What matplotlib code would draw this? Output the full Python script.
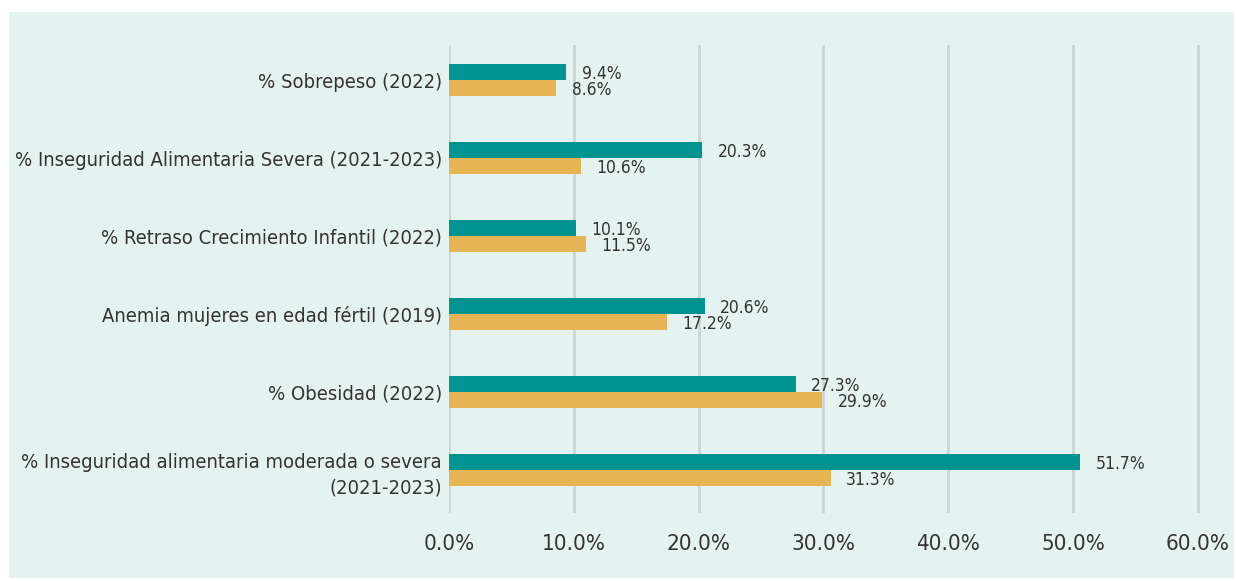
import matplotlib.pyplot as plt
from matplotlib import font_manager
from matplotlib.patches import Rectangle
from matplotlib.ticker import FuncFormatter
import numpy as np

# Indicadores (de abajo hacia arriba)
categories = [
    "% Inseguridad alimentaria moderada o severa\n(2021-2023)",
    "% Obesidad (2022)",
    "Anemia mujeres en edad fértil (2019)",
    "% Retraso Crecimiento Infantil (2022)",
    "% Inseguridad Alimentaria Severa (2021-2023)",
    "% Sobrepeso (2022)",
]
# longitudes de barra tal como se ven en el gráfico
serie_a = [50.6, 27.8, 20.5, 10.2, 20.3, 9.4]   # teal
serie_b = [30.6, 29.9, 17.5, 11.0, 10.6, 8.6]   # gold
# etiquetas impresas junto a las barras
labels_a = [51.7, 27.3, 20.6, 10.1, 20.3, 9.4]
labels_b = [31.3, 29.9, 17.2, 11.5, 10.6, 8.6]
xticks = [0, 10, 20, 30, 40, 50, 60]

TEAL = "#009490"
GOLD = "#E6B655"
BG = "#E5F3F0"
GRID = "#C9D6D3"
TXT = "#333333"

# condensed font if there is one
names = {f.name for f in font_manager.fontManager.ttflist}
if "Liberation Sans Narrow" in names:
    plt.rcParams['font.family'] = ['Liberation Sans Narrow', 'DejaVu Sans']
else:
    plt.rcParams['font.family'] = ['DejaVu Sans']
    plt.rcParams['font.stretch'] = 'condensed'

W, H = 1236, 581
fig = plt.figure(figsize=(W / 100, H / 100), dpi=100, facecolor="white")
fig.patches.append(Rectangle((9 / W, 3 / H), 1225 / W, 566 / H,
                             transform=fig.transFigure, facecolor=BG,
                             edgecolor="none", zorder=-10))

xmax = 60.3
px_per_unit = 124.8 / 10
ax = fig.add_axes([449 / W, 68 / H, xmax * px_per_unit / W, 468 / H])
ax.set_facecolor("none")
ax.set_zorder(5)

y = np.arange(len(categories))
h = 0.205
bars_a = ax.barh(y + h / 2, serie_a, height=h, color=TEAL, zorder=3)
bars_b = ax.barh(y - h / 2, serie_b, height=h, color=GOLD, zorder=3)

for bars, vals in ((bars_a, labels_a), (bars_b, labels_b)):
    txts = ax.bar_label(bars, labels=[f"{v:.1f}%" for v in vals], padding=11,
                        fontsize=12.5, color=TXT)
    for t in txts:
        t.set_va("center_baseline")

ax.set_xlim(0, xmax)
ax.set_ylim(-0.55, 5.45)
ax.set_xticks(xticks)
ax.xaxis.set_major_formatter(FuncFormatter(lambda v, p: f"{v:.1f}%"))
ax.set_yticks(y)
ax.set_yticklabels(categories, linespacing=1.45)
ax.tick_params(axis="x", length=0, pad=15, labelsize=16, labelcolor=TXT)
ax.tick_params(axis="y", length=0, pad=5, labelsize=14.5, labelcolor=TXT)
ax.grid(axis="x", color=GRID, linewidth=2, zorder=0)
ax.set_axisbelow(True)
for s in ax.spines.values():
    s.set_visible(False)

fig.savefig("out.png", dpi=100, facecolor="white")
